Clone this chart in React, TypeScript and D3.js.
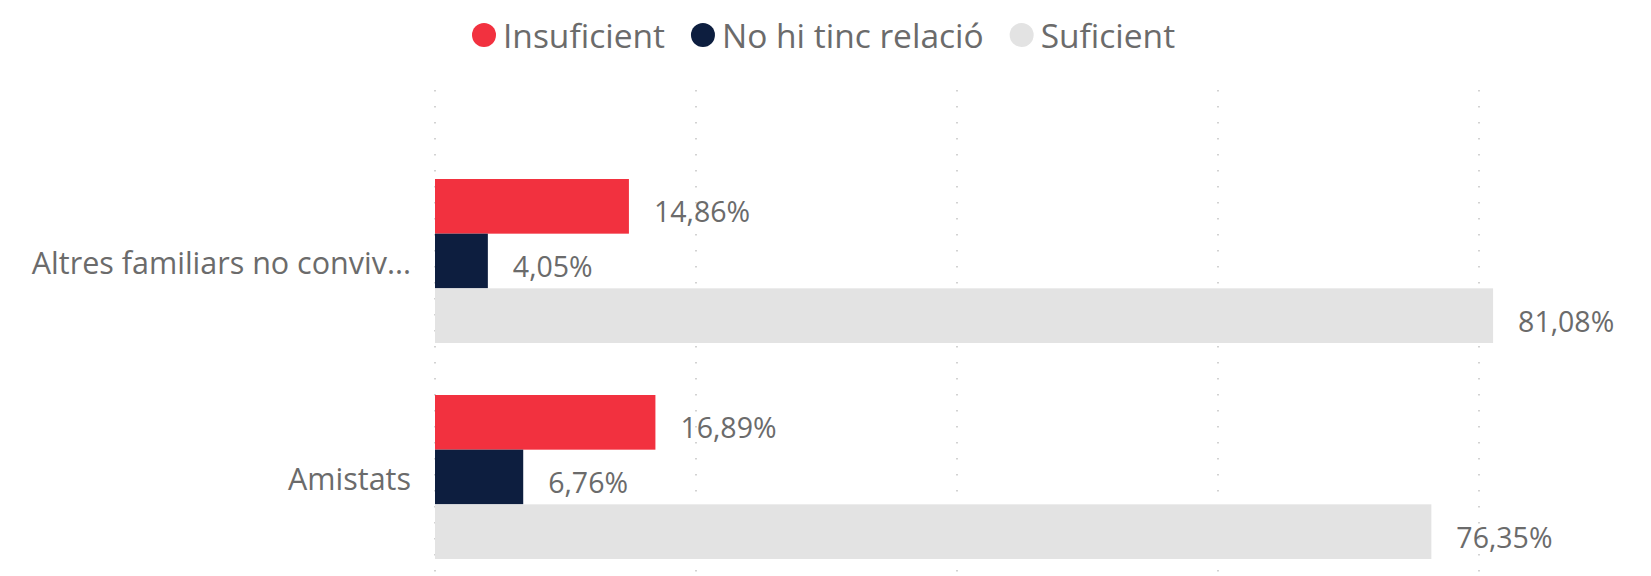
import React, { useEffect, useRef } from "react";
import * as d3 from "d3";

const categories = ["Altres familiars no conviv...", "Amistats"];
const seriesNames = ["Insuficient", "No hi tinc relació", "Suficient"];
const seriesColors = ["#F2313F", "#0D1E3F", "#E3E3E3"];
const insuficient = [14.86, 16.89];
const noRelacio = [4.05, 6.76];
const suficient = [81.08, 76.35];
const gridTicks = [0, 20, 40, 60, 80];

const W = 1651;
const H = 576;
const FONT = "'Open Sans', 'Noto Sans', sans-serif";

export default function App() {
  const ref = useRef<SVGSVGElement | null>(null);

  useEffect(() => {
    const svg = d3.select(ref.current);
    svg.selectAll("*").remove();

    const values = [insuficient, noRelacio, suficient];

    const x = d3.scaleLinear().domain([0, 80]).range([435, 1479]);
    const pIn = 52 / 216;
    const y = d3
      .scaleBand<string>()
      .domain(categories)
      .range([153, 585])
      .paddingInner(pIn)
      .paddingOuter(pIn / 2);
    const ys = d3
      .scaleBand<string>()
      .domain(seriesNames)
      .range([0, y.bandwidth()]);

    // gridlines
    svg
      .append("g")
      .selectAll("line")
      .data(gridTicks)
      .join("line")
      .attr("x1", (d) => x(d))
      .attr("x2", (d) => x(d))
      .attr("y1", 90)
      .attr("y2", 572)
      .attr("stroke", "#C4C4C4")
      .attr("stroke-width", 1.5)
      .attr("stroke-dasharray", "1.5,14.5");

    // bars
    seriesNames.forEach((s, si) => {
      const g = svg.append("g");
      g.selectAll("rect")
        .data(categories)
        .join("rect")
        .attr("x", x(0))
        .attr("y", (c) => (y(c) as number) + (ys(s) as number))
        .attr("width", (_c, i) => x(values[si][i]) - x(0))
        .attr("height", ys.bandwidth())
        .attr("fill", seriesColors[si]);
      g.selectAll("text")
        .data(categories)
        .join("text")
        .attr("x", (_c, i) => x(values[si][i]) + 25)
        .attr("y", (c) => (y(c) as number) + (ys(s) as number) + ys.bandwidth() / 2 + 5)
        .attr("dominant-baseline", "central")
        .attr("font-family", FONT)
        .attr("font-size", 28.5)
        .attr("fill", "#6b6b6b")
        .text((_c, i) => d3.format(".2f")(values[si][i]).replace(".", ",") + "%");
    });

    // category labels
    svg
      .append("g")
      .selectAll("text")
      .data(categories)
      .join("text")
      .attr("x", 411)
      .attr("y", (c) => (y(c) as number) + y.bandwidth() / 2 + 1)
      .attr("text-anchor", "end")
      .attr("dominant-baseline", "central")
      .attr("font-family", FONT)
      .attr("font-size", 30.5)
      .attr("fill", "#6b6b6b")
      .text((c) => c);

    // legend
    const lg = svg.append("g");
    let cx = 484;
    const ly = 35;
    seriesNames.forEach((s, i) => {
      lg.append("circle")
        .attr("cx", cx)
        .attr("cy", ly)
        .attr("r", 12)
        .attr("fill", seriesColors[i]);
      const t = lg
        .append("text")
        .attr("x", cx + 19)
        .attr("y", ly)
        .attr("dominant-baseline", "central")
        .attr("font-family", FONT)
        .attr("font-size", 33.5)
        .attr("fill", "#6b6b6b")
        .text(s);
      const w = (t.node() as SVGTextElement).getComputedTextLength();
      cx = cx + 19 + w + 38;
    });
  }, []);

  return (
    <svg
      ref={ref}
      width={W}
      height={H}
      style={{ position: "absolute", left: 0, top: 0, background: "#ffffff" }}
    />
  );
}
